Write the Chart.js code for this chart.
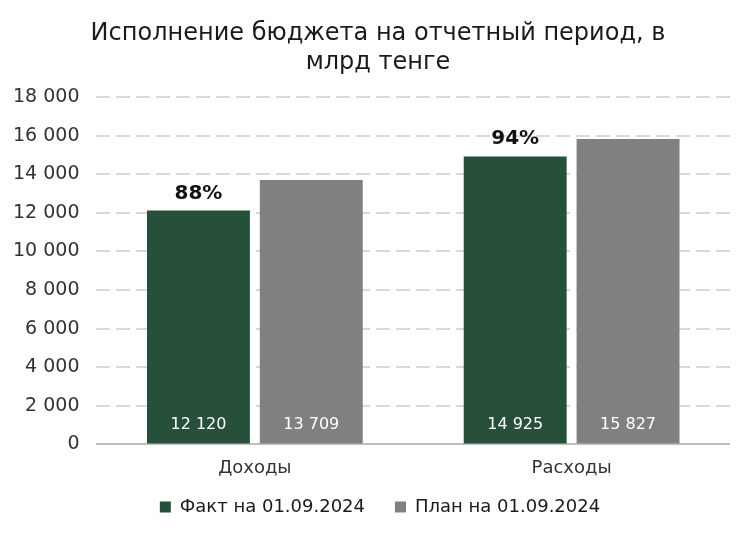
<!DOCTYPE html>
<html>
<head>
<meta charset="utf-8">
<script src="https://cdn.jsdelivr.net/npm/chart.js@4.4.1/dist/chart.umd.min.js"></script>
<style>
html,body{margin:0;padding:0;background:#fff;}
#wrap{width:756px;height:535px;}
</style>
</head>
<body>
<div id="wrap"><canvas id="c" width="756" height="535"></canvas></div>
<script>
const categories = ["Доходы", "Расходы"];
const factValues = [12120, 14925];
const planValues = [13709, 15827];
const percentLabels = ["88%", "94%"];
const seriesNames = ["Факт на 01.09.2024", "План на 01.09.2024"];
const titleLines = ["Исполнение бюджета на отчетный период, в", "млрд тенге"];

const FONT = "'DejaVu Sans', sans-serif";
function fmt(v){ return String(v).replace(/\B(?=(\d{3})+(?!\d))/g, " "); }

const labelPlugin = {
  id: 'barLabels',
  afterDatasetsDraw(chart){
    const ctx = chart.ctx;
    ctx.save();
    chart.data.datasets.forEach((ds, di) => {
      const meta = chart.getDatasetMeta(di);
      meta.data.forEach((el, i) => {
        ctx.fillStyle = '#ffffff';
        ctx.font = '16px ' + FONT;
        ctx.textAlign = 'center';
        ctx.textBaseline = 'middle';
        ctx.fillText(fmt(ds.data[i]), el.x, el.base - 19);
        if (di === 0) {
          ctx.fillStyle = '#111111';
          ctx.font = 'bold 20px ' + FONT;
          ctx.textBaseline = 'alphabetic';
          ctx.fillText(percentLabels[i], el.x, el.y - 12);
        }
      });
    });
    ctx.restore();
  }
};

// legend: wide horizontal spacing without extra vertical space; title & legend centred on the page
const LEGEND_TRIM = 15;
const LEGEND_SHIFT_Y = 16;
const LEGEND_SHIFT_X = 17;
const TITLE_SHIFT_X = 15;
function wrapDraw(box, dx, dy){
  const origDraw = box.draw;
  box.draw = function(){
    const l = this.left, r = this.right, t = this.top, h = this.height;
    this.left = l + dx; this.right = r + dx;
    this.top = t - dy; this.height = h + dy;
    origDraw.call(this);
    this.left = l; this.right = r; this.top = t; this.height = h;
  };
}
const boxTweaks = {
  id: 'boxTweaks',
  beforeLayout(chart){
    const lg = chart.legend;
    if (lg && !lg._wrapped) {
      const origFit = lg.fit;
      lg.fit = function(){ origFit.call(this); this.height -= LEGEND_TRIM; };
      wrapDraw(lg, LEGEND_SHIFT_X, LEGEND_SHIFT_Y);
      lg._wrapped = true;
    }
    const tb = chart.titleBlock;
    if (tb && !tb._wrapped) {
      wrapDraw(tb, TITLE_SHIFT_X, 0);
      tb._wrapped = true;
    }
  }
};

new Chart(document.getElementById('c'), {
  type: 'bar',
  data: {
    labels: categories,
    datasets: [
      { label: seriesNames[0], data: factValues, backgroundColor: '#27503A', categoryPercentage: 0.7125, barPercentage: 0.912 },
      { label: seriesNames[1], data: planValues, backgroundColor: '#808080', categoryPercentage: 0.7125, barPercentage: 0.912 }
    ]
  },
  options: {
    responsive: false,
    animation: false,
    devicePixelRatio: 1,
    layout: { padding: { left: -4, right: 26, top: 12, bottom: 8 } },
    plugins: {
      title: {
        display: true,
        text: titleLines,
        color: '#1a1a1a',
        font: { family: FONT, size: 24, weight: 'normal', lineHeight: 1.21 },
        padding: { top: 7, bottom: 20 }
      },
      legend: {
        position: 'bottom',
        labels: {
          color: '#1a1a1a',
          font: { family: FONT, size: 18 },
          boxWidth: 11, boxHeight: 11,
          padding: 30
        }
      },
      tooltip: { enabled: false }
    },
    scales: {
      x: {
        grid: { display: false },
        border: { display: false },
        ticks: { color: '#333333', font: { family: FONT, size: 18 }, padding: 5 }
      },
      y: {
        min: 0, max: 18000,
        ticks: { stepSize: 2000, color: '#333333', font: { family: FONT, size: 19 }, padding: 17, callback: v => fmt(v) },
        grid: {
          color: ctx => ctx.tick && ctx.tick.value === 0 ? '#bfbfbf' : '#d9d9d9',
          lineWidth: 2,
          drawTicks: false
        },
        border: { display: false, dash: ctx => (ctx.tick && ctx.tick.value === 0) ? [] : [14, 6] }
      }
    }
  },
  plugins: [labelPlugin, boxTweaks]
});
</script>
</body>
</html>
